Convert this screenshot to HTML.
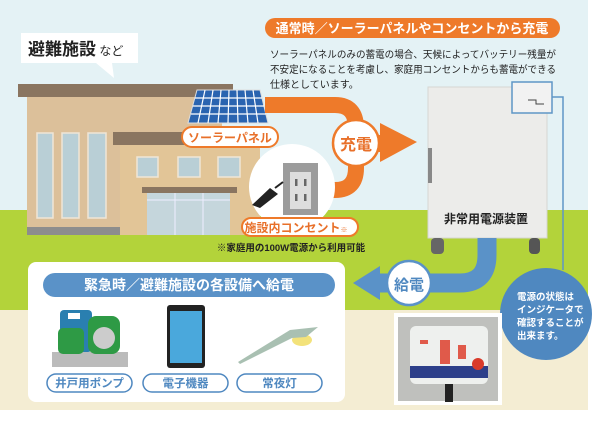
<!DOCTYPE html>
<html><head><meta charset="utf-8"><style>
html,body{margin:0;padding:0;background:#fff}
svg{display:block}
text{font-family:"Liberation Sans","Noto Sans CJK JP",sans-serif;font-weight:bold}
</style></head><body>
<svg width="600" height="427" viewBox="0 0 600 427" xmlns="http://www.w3.org/2000/svg">
<rect x="0" y="0" width="588" height="212" fill="#e4f2f5"/>
<rect x="0" y="210" width="588" height="102" fill="#b3d33a"/>
<rect x="0" y="310" width="588" height="100" fill="#f4edd3"/>

<path d="M21 33 H138 V63 H112 L114 78 L96 63 H21 Z" fill="#fff"/>
<text x="28" y="55" font-size="17" fill="#222">避難施設<tspan font-size="12" font-weight="normal"> など</tspan></text>

<rect x="27" y="97" width="95" height="138" fill="#dcc09a"/>
<rect x="18" y="84" width="215" height="13" fill="#8a7560"/>
<rect x="122" y="97" width="100" height="35" fill="#dcc09a"/>
<rect x="37" y="133" width="16" height="85" fill="#b9cfd6" stroke="#f0e6d6" stroke-width="1.5"/>
<rect x="62" y="133" width="17" height="85" fill="#b9cfd6" stroke="#f0e6d6" stroke-width="1.5"/>
<rect x="88" y="133" width="18" height="85" fill="#b9cfd6" stroke="#f0e6d6" stroke-width="1.5"/>
<rect x="27" y="227" width="93" height="8" fill="#8d8d8d"/>
<rect x="120" y="145" width="140" height="90" fill="#e2c597"/>
<rect x="113" y="132" width="127" height="13" fill="#8a7560"/>
<rect x="137" y="157" width="21" height="20" fill="#b9cfd6" stroke="#f0e6d6" stroke-width="1.5"/>
<rect x="178" y="157" width="22" height="20" fill="#b9cfd6" stroke="#f0e6d6" stroke-width="1.5"/>
<rect x="218" y="157" width="22" height="20" fill="#b9cfd6" stroke="#f0e6d6" stroke-width="1.5"/>
<rect x="142" y="187" width="95" height="6" fill="#8a7560"/>
<rect x="147" y="193" width="83" height="42" fill="#c5d6dc"/>
<path d="M175 193 V235 M203 193 V235 M147 200 H230" stroke="#eef" stroke-width="1"/>

<polygon points="197,90 260,90 268,123 188,123" fill="#2a64b0" stroke="#ddd" stroke-width="1"/>
<g stroke="#fff" stroke-width="1.2">
<line x1="195" y1="98" x2="262" y2="98"/><line x1="193" y1="106" x2="264" y2="106"/><line x1="191" y1="114" x2="266" y2="114"/>
<line x1="205" y1="90" x2="198" y2="123"/><line x1="213" y1="90" x2="208" y2="123"/><line x1="221" y1="90" x2="218" y2="123"/><line x1="229" y1="90" x2="228" y2="123"/><line x1="237" y1="90" x2="238" y2="123"/><line x1="245" y1="90" x2="248" y2="123"/><line x1="253" y1="90" x2="258" y2="123"/>
</g>
<rect x="182" y="127" width="96" height="20" rx="10" fill="#fff" stroke="#ee7a2a" stroke-width="2"/>
<text x="230" y="142" font-size="12" fill="#e8702a" text-anchor="middle">ソーラーパネル</text>

<path d="M265 105 H335 Q356 105 356 128 V168 Q356 190 335 190 H320" fill="none" stroke="#ee7a2a" stroke-width="16"/>
<rect x="356" y="135" width="26" height="17" fill="#ee7a2a"/>
<polygon points="380,123 417,142 380,162" fill="#ee7a2a"/>
<circle cx="356" cy="143" r="23" fill="#fff" stroke="#ee7a2a" stroke-width="2.5"/>
<text x="356" y="150" font-size="16" fill="#e8702a" text-anchor="middle">充電</text>

<circle cx="292" cy="187" r="43" fill="#fff"/>
<rect x="283" y="163" width="35" height="52" fill="#9c9c9c"/>
<rect x="290" y="172" width="21" height="37" fill="#ddd"/>
<rect x="295" y="179" width="2.5" height="7" fill="#666"/><rect x="304" y="179" width="2.5" height="7" fill="#666"/>
<rect x="295" y="194" width="2.5" height="7" fill="#666"/><rect x="304" y="194" width="2.5" height="7" fill="#666"/>
<polygon points="252,205 270,188 278,194 260,208" fill="#222"/>
<line x1="275" y1="188" x2="283" y2="182" stroke="#222" stroke-width="2"/>
<rect x="242" y="218" width="116" height="18" rx="9" fill="#fff" stroke="#ee7a2a" stroke-width="2"/>
<text x="296" y="232" font-size="12" fill="#e8702a" text-anchor="middle">施設内コンセント<tspan font-size="7">※</tspan></text>
<text x="291" y="251" font-size="9.5" fill="#222" text-anchor="middle">※家庭用の100W電源から利用可能</text>

<rect x="265" y="18" width="295" height="20" rx="10" fill="#ee7a2a"/>
<text x="412" y="33" font-size="13" fill="#fff" text-anchor="middle">通常時／ソーラーパネルやコンセントから充電</text>
<g font-size="10" fill="#222">
<text x="270" y="58" style="font-weight:normal" textLength="286" lengthAdjust="spacingAndGlyphs">ソーラーパネルのみの蓄電の場合、天候によってバッテリー残量が</text>
<text x="270" y="73" style="font-weight:normal" textLength="286" lengthAdjust="spacingAndGlyphs">不安定になることを考慮し、家庭用コンセントからも蓄電ができる</text>
<text x="270" y="88" style="font-weight:normal">仕様としています。</text>
</g>

<rect x="428" y="87" width="119" height="151" fill="#ececea" stroke="#d6d6d2"/>
<rect x="428" y="148" width="4" height="35" fill="#888"/>
<text x="486" y="223" font-size="12" fill="#222" text-anchor="middle">非常用電源装置</text>
<rect x="431" y="238" width="13" height="16" rx="4" fill="#666"/>
<rect x="529" y="238" width="11" height="16" rx="4" fill="#555"/>
<rect x="512" y="82" width="40" height="31" fill="#f2f2f2" stroke="#5e96c6" stroke-width="1.5"/>
<path d="M528 100 h8 v4 h8" stroke="#444" fill="none" stroke-width="1"/>
<polyline points="552,97 563,97 563,270" fill="none" stroke="#5e96c6" stroke-width="1.5"/>

<path d="M487 238 V255 Q487 283 460 283 H375" fill="none" stroke="#5a92c8" stroke-width="19"/>
<polygon points="380,266 353,283 380,300" fill="#5a92c8"/>
<circle cx="409" cy="283" r="22" fill="#fff" stroke="#5a92c8" stroke-width="2.5"/>
<text x="409" y="290" font-size="15" fill="#4f88c0" text-anchor="middle">給電</text>

<circle cx="546" cy="314" r="46" fill="#4f88c0"/>
<g font-size="9.5" fill="#fff">
<text x="517" y="300">電源の状態は</text>
<text x="517" y="313">インジケータで</text>
<text x="517" y="326">確認することが</text>
<text x="517" y="339">出来ます。</text>
</g>

<rect x="394" y="313" width="108" height="92" fill="#fff"/>
<rect x="398" y="317" width="100" height="84" fill="#bfc0bd"/>
<rect x="410" y="326" width="78" height="58" rx="6" fill="#eef0ee"/>
<rect x="410" y="366" width="78" height="12" fill="#2d3f8a"/>
<circle cx="478" cy="364" r="6" fill="#d93a2a"/>
<rect x="440" y="340" width="10" height="24" fill="#e05a4a"/>
<rect x="458" y="345" width="8" height="14" fill="#e05a4a"/>
<rect x="420" y="340" width="8" height="4" fill="#e05a4a"/>
<rect x="445" y="384" width="8" height="18" fill="#222"/>

<rect x="28" y="262" width="317" height="140" rx="8" fill="#fff"/>
<rect x="43" y="273" width="292" height="24" rx="12" fill="#5a92c8"/>
<text x="189" y="290" font-size="14" fill="#fff" text-anchor="middle">緊急時／避難施設の各設備へ給電</text>
<rect x="52" y="352" width="76" height="15" fill="#bbb"/>
<rect x="60" y="310" width="32" height="42" rx="4" fill="#2a7fb0"/>
<rect x="58" y="328" width="26" height="26" rx="5" fill="#2e9a45"/>
<rect x="88" y="316" width="32" height="38" rx="8" fill="#2e9a45"/>
<circle cx="104" cy="338" r="11" fill="#ccc"/>
<rect x="68" y="313" width="12" height="6" fill="#fff"/>
<rect x="167" y="305" width="38" height="63" rx="3" fill="#222"/>
<rect x="170" y="311" width="32" height="52" fill="#4aa8dc"/>
<ellipse cx="302" cy="340" rx="10" ry="6" fill="#f3e27a"/>
<path d="M238 362 L290 330 L318 327 L306 337 L292 338 L240 364 Z" fill="#a9c0b2"/>
<g font-size="11.5" fill="#4f88c0" text-anchor="middle">
<rect x="47" y="374" width="85" height="18" rx="9" fill="#fff" stroke="#4f88c0" stroke-width="1.5"/>
<text x="89.5" y="387">井戸用ポンプ</text>
<rect x="143" y="374" width="85" height="18" rx="9" fill="#fff" stroke="#4f88c0" stroke-width="1.5"/>
<text x="185.5" y="387">電子機器</text>
<rect x="237" y="374" width="85" height="18" rx="9" fill="#fff" stroke="#4f88c0" stroke-width="1.5"/>
<text x="279.5" y="387">常夜灯</text>
</g>
</svg>
</body></html>
